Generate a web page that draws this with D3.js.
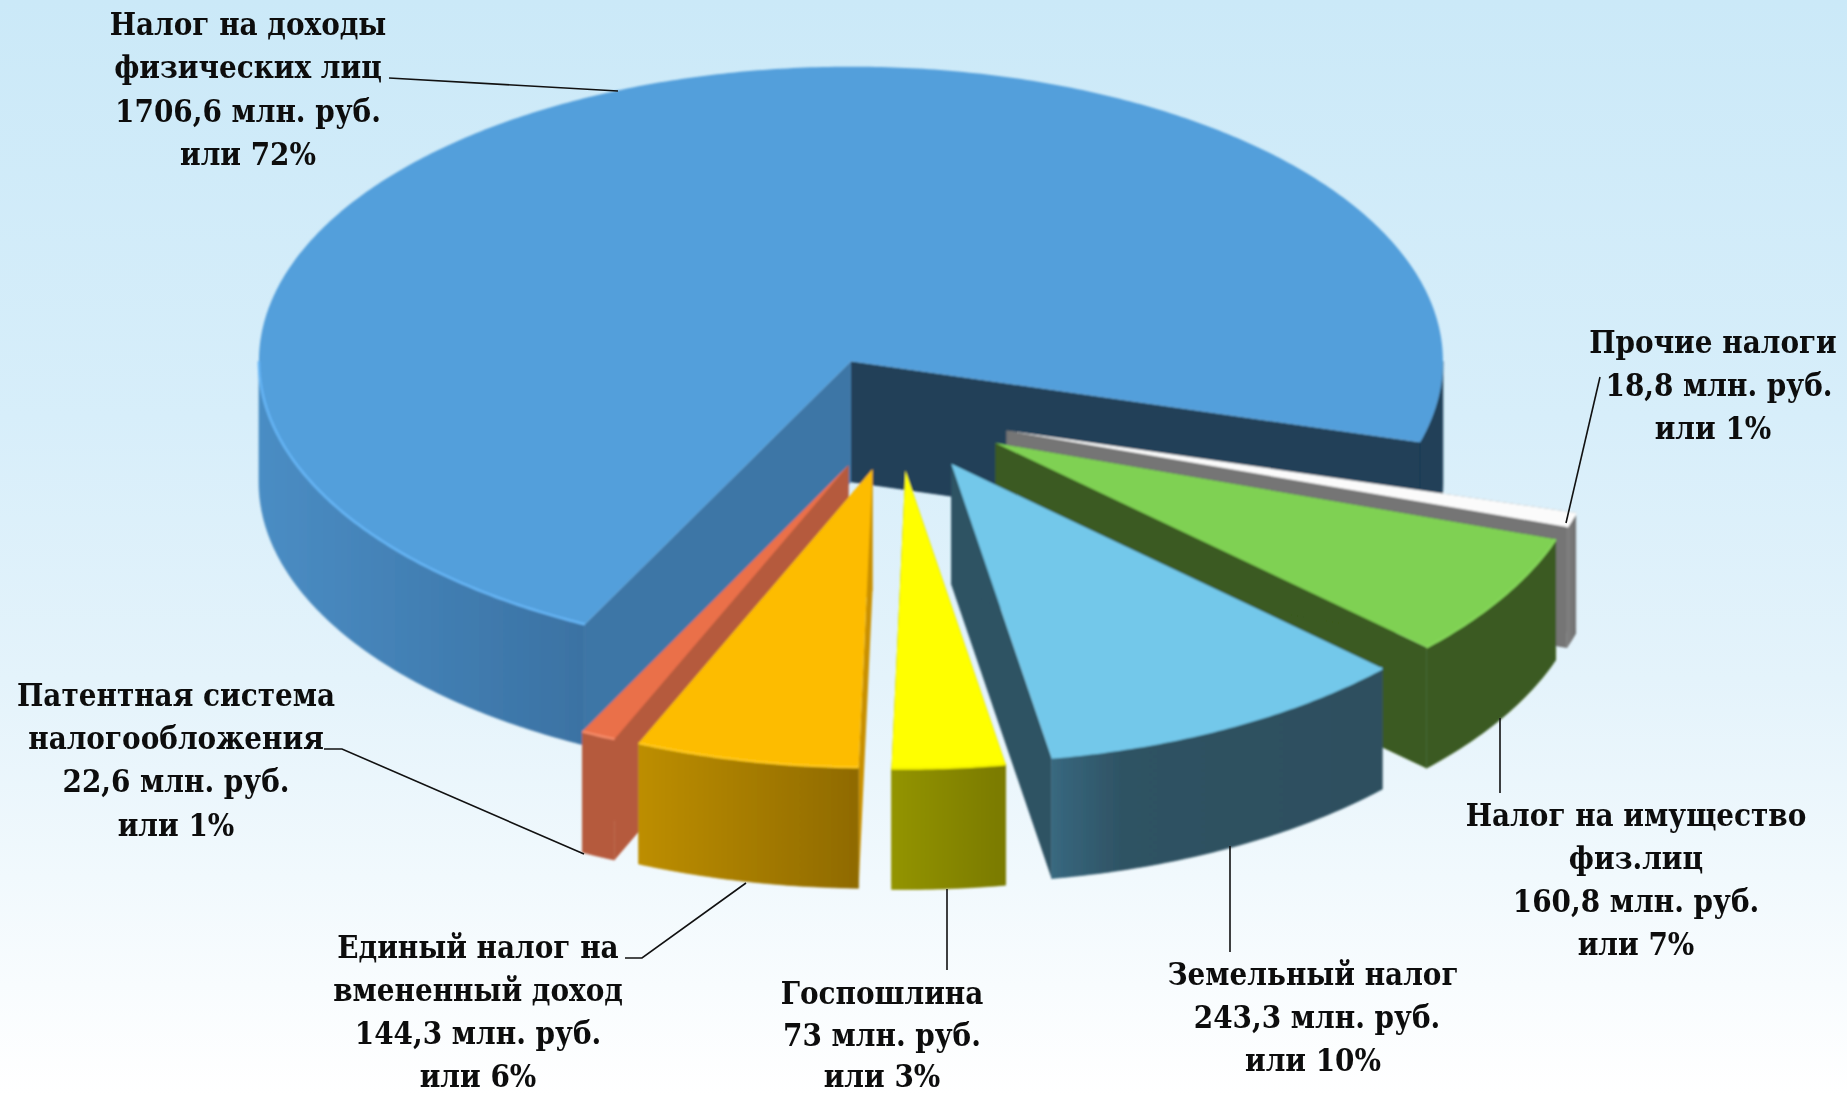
<!DOCTYPE html>
<html>
<head>
<meta charset="utf-8">
<script src="https://cdn.jsdelivr.net/npm/d3@7"></script>
<style>
  html, body { margin: 0; padding: 0; background: #fff; overflow: hidden; }
  svg { display: block; }
  .label { font-family: "DejaVu Serif Condensed", "DejaVu Serif", serif; font-weight: bold; font-size: 31px; fill: #111; text-anchor: middle; }
  .leader { fill: none; stroke: #111; stroke-width: 1.6; }
</style>
</head>
<body>
<div id="wrapper"></div>
<script>
// values in млн. руб., in pie order (clockwise from the cut on the right)
const categories = ["Прочие налоги", "Налог на имущество физ.лиц", "Земельный налог", "Госпошлина", "Единый налог на вмененный доход", "Патентная система налогообложения", "Налог на доходы физических лиц"]
const values = [18.8, 160.8, 243.3, 73, 144.3, 22.6, 1706.6]
const labelLines = [
  ["Прочие налоги", "18,8 млн. руб.", "или 1%"],
  ["Налог на имущество", "физ.лиц", "160,8 млн. руб.", "или 7%"],
  ["Земельный налог", "243,3 млн. руб.", "или 10%"],
  ["Госпошлина", "73 млн. руб.", "или 3%"],
  ["Единый налог на", "вмененный доход", "144,3 млн. руб.", "или 6%"],
  ["Патентная система", "налогообложения", "22,6 млн. руб.", "или 1%"],
  ["Налог на доходы", "физических лиц", "1706,6 млн. руб.", "или 72%"],
]

function drawChart(){

  const dimensions = {
    width: 1847,
    height: 1095,
    cx: 897,
    cy: 413.5,
    rx: 592,
    ry: 294.5,
    frontStretch: 1.012,
    depth: 121,
    explode: 0.194,
    startAngle: 106 * Math.PI / 180,
  }

  const styles = [
    {top: "#fbfbfb", rim: "#ffffff", cut: "#757575", wall: ["#808080", "#707070"]},
    {top: "#7fd153", rim: "#85d65a", cut: "#3a5a20", wall: ["#3a5a20", "#3a5a20"]},
    {top: "#73c8ea", rim: "#73c8ea", cut: "#2e5263", wall: ["#38687f", "#2e5263", "#2d505f"]},
    {top: "#ffff00", rim: "#f4f400", cut: "#8f9000", wall: ["#939400", "#7a7a00"]},
    {top: "#fdbc00", rim: "#ffc81c", cut: "#c99000", wall: ["#bd8e00", "#8f6a00"]},
    {top: "#ea7049", rim: "#f58a68", cut: "#b55a3c", wall: ["#b55a3c", "#b55a3c"]},
    {top: "#529fdb", rim: "#66b5f5", cut: "#3e76a6", cutEnd: "#203f58", wall: ["#4a8dc4", "#3b72a3"]},
  ]

  // label centre x, first baseline, line pitch, x nudge per line
  const labelPlaces = [
    [1713, 353, 43, [0, 6, 0]],
    [1636, 826, 43],
    [1313, 985, 43, [0, 4, 0]],
    [882, 1004, 41.5],
    [478, 958, 43],
    [176, 706, 43.2],
    [248, 35, 43.4],
  ]

  const leaders = [
    [[1600, 377], [1566, 523]],
    [[1500, 718], [1500, 793]],
    [[1230, 846], [1230, 952]],
    [[947, 889], [947, 970]],
    [[625, 958], [642, 958], [746, 883]],
    [[324, 749], [342, 749], [584, 854]],
    [[389, 78], [618, 91]],
  ]

  // 1. Pie layout

  const pie = d3.pie()
    .sort(null)
    .startAngle(dimensions.startAngle)
    .endAngle(dimensions.startAngle + Math.PI * 2)

  const biggest = d3.max(values)

  const slices = pie(values).map((d, i) => {
    const mid = (d.startAngle + d.endAngle) / 2
    return {
      ...d,
      i,
      style: styles[i],
      ox: dimensions.cx + dimensions.explode * dimensions.rx * Math.sin(mid),
      oy: dimensions.cy - dimensions.explode * dimensions.ry * Math.cos(mid),
      // the slices nearer the camera come out a bit taller
      ry: d.value == biggest ? dimensions.ry : dimensions.ry * dimensions.frontStretch,
    }
  })

  const lineGenerator = d3.line()
  const closed = pts => lineGenerator(pts) + "Z"

  const rimPoint = (s, a, z = 0) => [
    s.ox + dimensions.rx * Math.sin(a),
    s.oy - s.ry * Math.cos(a) + z,
  ]
  const arcAngles = (a0, a1) => {
    const n = Math.max(2, Math.ceil((a1 - a0) / 0.01))
    return d3.range(n + 1).map(k => a0 + (a1 - a0) * k / n)
  }

  // parts of the rim that face the viewer, k = 1 is the part past a full turn
  const frontRanges = s => {
    const out = []
    for (let k = 0; k < 2; k++) {
      const lo = Math.PI / 2 + k * Math.PI * 2
      const hi = lo + Math.PI
      const a0 = Math.max(s.startAngle, lo)
      const a1 = Math.min(s.endAngle, hi)
      if (a1 > a0) out.push({a0, a1, k})
    }
    return out
  }

  // 2. Draw canvas

  const wrapper = d3.select("#wrapper")
    .append("svg")
      .attr("width", dimensions.width)
      .attr("height", dimensions.height)

  const defs = wrapper.append("defs")

  const bgGradient = defs.append("linearGradient")
    .attr("id", "bg")
    .attr("x1", 0).attr("y1", 0).attr("x2", 0).attr("y2", 1)
  const bgStops = [[0, "#cbe9f8"], [0.38, "#d7eefa"], [0.62, "#e4f3fb"], [0.8, "#f1f9fd"], [1, "#ffffff"]]
  bgStops.forEach(d => bgGradient.append("stop").attr("offset", d[0]).attr("stop-color", d[1]))

  const addBlur = (id, amount) => defs.append("filter")
    .attr("id", id)
    .attr("x", "-5%").attr("y", "-5%").attr("width", "110%").attr("height", "110%")
    .append("feGaussianBlur")
    .attr("stdDeviation", amount)
  addBlur("soft", 0.8)
  addBlur("softText", 0.45)

  slices.forEach(s => {
    const g = defs.append("linearGradient").attr("id", `wall${s.i}`)
    const stops = s.style.wall
    const at = stops.length == 3 ? [0, 0.22, 1] : [0, 1]
    stops.forEach((c, k) => g.append("stop").attr("offset", at[k]).attr("stop-color", c))
  })

  wrapper.append("rect")
    .attr("width", dimensions.width)
    .attr("height", dimensions.height)
    .attr("fill", "url(#bg)")

  const bounds = wrapper.append("g")
    .attr("id", "pie")
    .attr("filter", "url(#soft)")

  // 3. Draw slices, back to front

  const drawOrder = [6, 0, 1, 2, 5, 4, 3]

  drawOrder.forEach(i => {
    const s = slices[i]
    const tip = [s.ox, s.oy]
    const tipLow = [s.ox, s.oy + dimensions.depth]
    const group = bounds.append("g").attr("class", "slice")

    // cut faces
    const cutFace = a => closed([tip, rimPoint(s, a), rimPoint(s, a, dimensions.depth), tipLow])
    group.append("path").attr("d", cutFace(s.endAngle)).attr("fill", s.style.cutEnd || s.style.cut)
    group.append("path").attr("d", cutFace(s.startAngle)).attr("fill", s.style.cut)

    // outer walls, the stretch past the full turn sits in shadow
    frontRanges(s).forEach(r => {
      const angles = arcAngles(r.a0, r.a1)
      const upper = angles.map(a => rimPoint(s, a))
      const lower = angles.map(a => rimPoint(s, a, dimensions.depth)).reverse()
      const wallFill = r.k ? s.style.cutEnd : `url(#wall${s.i})`
      group.append("path")
        .attr("d", closed(upper.concat(lower)))
        .attr("fill", wallFill)
        .attr("stroke", wallFill)
        .attr("stroke-width", 0.6)
    })

    // top
    const topPts = [tip].concat(arcAngles(s.startAngle, s.endAngle).map(a => rimPoint(s, a)))
    group.append("path").attr("d", closed(topPts)).attr("fill", s.style.top)

    // light rim where top meets the wall
    frontRanges(s).filter(r => !r.k).forEach(r => {
      group.append("path")
        .attr("d", lineGenerator(arcAngles(r.a0, r.a1).map(a => rimPoint(s, a))))
        .attr("fill", "none")
        .attr("stroke", s.style.rim)
        .attr("stroke-width", 2.5)
    })
  })

  // 4. Draw peripherals

  const leaderLine = d3.line()
  wrapper.append("g")
    .selectAll("path")
    .data(leaders)
    .join("path")
      .attr("class", "leader")
      .attr("d", d => leaderLine(d))

  const labels = wrapper.append("g")
    .attr("filter", "url(#softText)")
    .selectAll("text")
    .data(labelLines)
    .join("text")
      .attr("class", "label")

  labels.selectAll("tspan")
    .data((d, i) => d.map((t, k) => ({t, k, place: labelPlaces[i]})))
    .join("tspan")
      .attr("x", d => d.place[0] + (d.place[3] ? d.place[3][d.k] : 0))
      .attr("y", d => d.place[1] + d.k * d.place[2])
      .text(d => d.t)
}

drawChart()
</script>
</body>
</html>
